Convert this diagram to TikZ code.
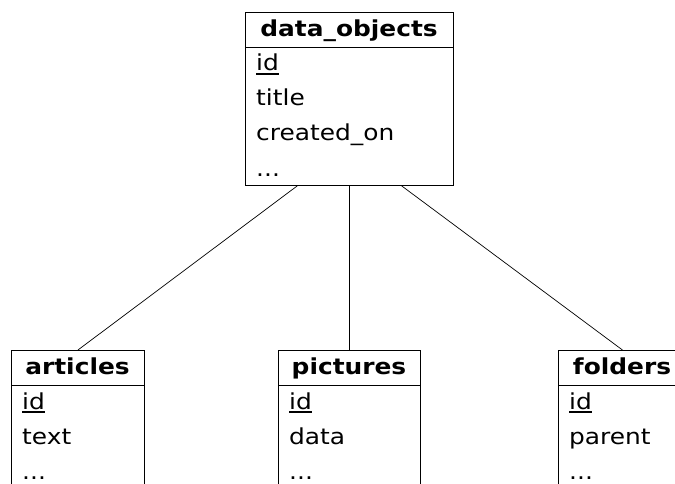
\documentclass[tikz,border=0pt]{standalone}
\usepackage{fontspec}
\setmainfont{DejaVu Sans}[FakeStretch=1.13]
\usetikzlibrary{calc}
\newcommand\keyul[1]{\setbox0\hbox{#1}\rlap{\rule[-3.6pt]{\wd0}{1.2pt}}\box0}
\tikzset{
  tbl/.style={draw=black, line width=0.9pt, rectangle, inner sep=0pt, anchor=north west},
  hdr/.style={anchor=base, inner sep=0pt, font=\fontsize{22}{26}\selectfont\bfseries},
  fld/.style={anchor=base west, inner sep=0pt, font=\fontsize{22}{26}\selectfont},
  sepl/.style={draw=black, line width=0.9pt},
  conn/.style={draw=black, line width=0.7pt}
}
\begin{document}
\begin{tikzpicture}[x=1pt,y=1pt]
\useasboundingbox (0,0) rectangle (675,-484);
% data_objects
\node[tbl, minimum width=208pt, minimum height=173pt] (dobj) at (245,-12) {};
\draw[sepl] ($(dobj.north west)+(0,-35)$) -- ($(dobj.north east)+(0,-35)$);
\node[hdr] (dobjh) at (349,-36.7) {data\_objects};
\node[fld] (dobj1) at (256,-71) {\keyul{id}};
\node[fld] (dobj2) at (256,-106) {title};
\node[fld] (dobj3) at (256,-141) {created\_on};
\node[fld] (dobj4) at (256,-176) {...};
% articles
\node[tbl, minimum width=133pt, minimum height=173pt] (art) at (11,-350) {};
\draw[sepl] ($(art.north west)+(0,-35)$) -- ($(art.north east)+(0,-35)$);
\node[hdr] (arth) at (77.5,-374.7) {articles};
\node[fld] (art1) at (22,-409) {\keyul{id}};
\node[fld] (art2) at (22,-444) {text};
\node[fld] (art3) at (22,-479) {...};
% pictures
\node[tbl, minimum width=142pt, minimum height=173pt] (pic) at (278,-350) {};
\draw[sepl] ($(pic.north west)+(0,-35)$) -- ($(pic.north east)+(0,-35)$);
\node[hdr] (pich) at (349,-374.7) {pictures};
\node[fld] (pic1) at (289,-409) {\keyul{id}};
\node[fld] (pic2) at (289,-444) {data};
\node[fld] (pic3) at (289,-479) {...};
% folders
\node[tbl, minimum width=128pt, minimum height=173pt] (fol) at (558,-350) {};
\draw[sepl] ($(fol.north west)+(0,-35)$) -- ($(fol.north east)+(0,-35)$);
\node[hdr] (folh) at (622,-374.7) {folders};
\node[fld] (fol1) at (569,-409) {\keyul{id}};
\node[fld] (fol2) at (569,-444) {parent};
\node[fld] (fol3) at (569,-479) {...};
% connectors
\draw[conn] ($(dobj.south west)!0.25!(dobj.south east)$) -- (art.north);
\draw[conn] (dobj.south) -- (pic.north);
\draw[conn] ($(dobj.south west)!0.75!(dobj.south east)$) -- (fol.north);
\end{tikzpicture}
\end{document}
